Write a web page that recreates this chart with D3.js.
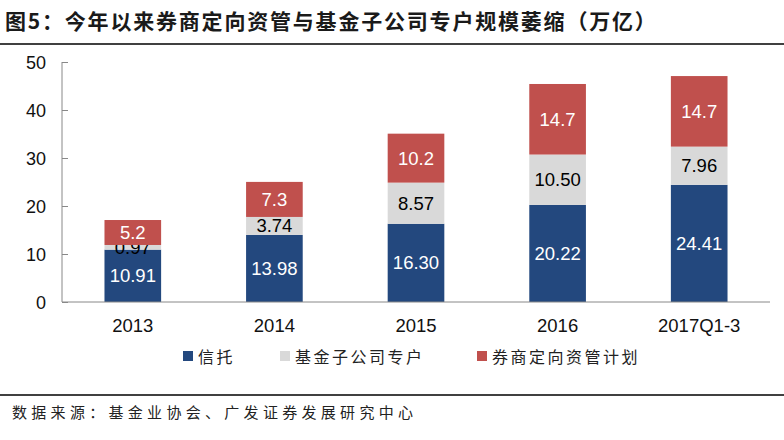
<!DOCTYPE html>
<html>
<head>
<meta charset="utf-8">
<script src="https://cdn.jsdelivr.net/npm/d3@7"></script>
<style>
body { margin: 0; background: #fff; }
svg { display: block; }
</style>
</head>
<body>
<svg id="chart" width="784" height="440"></svg>
<script>
// data
var years = ["2013", "2014", "2015", "2016", "2017Q1-3"];
var trust = [10.91, 13.98, 16.30, 20.22, 24.41];
var fundSub = [0.97, 3.74, 8.57, 10.50, 7.96];
var broker = [5.2, 7.3, 10.2, 14.7, 14.7];
var trustLabels = ["10.91", "13.98", "16.30", "20.22", "24.41"];
var fundLabels = ["0.97", "3.74", "8.57", "10.50", "7.96"];
var brokerLabels = ["5.2", "7.3", "10.2", "14.7", "14.7"];
var seriesNames = ["信托", "基金子公司专户", "券商定向资管计划"];
var yTicks = [0, 10, 20, 30, 40, 50];

var colors = ["#23487e", "#d9d9d9", "#c0504d"];
var labelColors = ["#fff", "#000", "#fff"];
var cjk = "'Noto Sans CJK SC', sans-serif";
var latin = "'Liberation Sans', Arial, sans-serif";

var svg = d3.select("#chart");

//title and rules
svg.append("text").attr("x", 5).attr("y", 29)
	.attr("font-family", cjk).attr("font-size", 21).attr("font-weight", "bold")
	.attr("letter-spacing", 1.8)
	.attr("fill", "#1a1a1a")
	.text("图5：今年以来券商定向资管与基金子公司专户规模萎缩（万亿）");
svg.append("line").attr("x1", 0).attr("x2", 784).attr("y1", 44).attr("y2", 44)
	.attr("stroke", "#000").attr("stroke-width", 1.5);
svg.append("line").attr("x1", 0).attr("x2", 784).attr("y1", 395).attr("y2", 395)
	.attr("stroke", "#000").attr("stroke-width", 1.5);
svg.append("text").attr("x", 12).attr("y", 418)
	.attr("font-family", cjk).attr("font-size", 15).attr("letter-spacing", 4.3)
	.attr("fill", "#222")
	.text("数据来源：基金业协会、广发证券发展研究中心");

var x = d3.scaleBand().domain(years).range([62, 770]).paddingInner(0.6).paddingOuter(0.3);
var y = d3.scaleLinear().domain([0, 50]).range([302, 62]);

var rows = years.map(function(yr, i) {
	return {year: yr, s0: trust[i], s1: fundSub[i], s2: broker[i],
		l0: trustLabels[i], l1: fundLabels[i], l2: brokerLabels[i]};
});
var stack = d3.stack().keys(["s0", "s1", "s2"])(rows);

stack.forEach(function(layer, k) {
	svg.append("g").selectAll("rect").data(layer).enter().append("rect")
		.attr("x", function(d) { return x(d.data.year); })
		.attr("width", x.bandwidth())
		.attr("y", function(d) { return y(d[1]); })
		.attr("height", function(d) { return y(d[0]) - y(d[1]); })
		.attr("fill", colors[k]);
	svg.append("g").selectAll("text").data(layer).enter().append("text")
		.attr("x", function(d) { return x(d.data.year) + x.bandwidth() / 2; })
		.attr("y", function(d) { return (y(d[0]) + y(d[1])) / 2 + 6.5; })
		.attr("text-anchor", "middle")
		.attr("font-family", latin).attr("font-size", 18.5)
		.attr("fill", labelColors[k])
		.text(function(d) { return d.data["l" + k]; });
});

// axes
var yAxis = svg.append("g").attr("transform", "translate(62,0)")
	.call(d3.axisRight(y).tickValues(yTicks).tickSize(6).tickFormat(""));
yAxis.selectAll("line, path").attr("stroke", "#888");
yAxis.select(".domain").attr("d", "M0,62V302");
svg.append("g").selectAll("text").data(yTicks).enter().append("text")
	.attr("x", 46).attr("y", function(d) { return y(d) + 6.5; })
	.attr("text-anchor", "end")
	.attr("font-family", latin).attr("font-size", 18).attr("fill", "#111")
	.text(function(d) { return d; });

svg.append("line").attr("x1", 62).attr("x2", 770).attr("y1", 302).attr("y2", 302)
	.attr("stroke", "#888");
svg.append("g").selectAll("text").data(years).enter().append("text")
	.attr("x", function(d) { return x(d) + x.bandwidth() / 2; })
	.attr("y", 332)
	.attr("text-anchor", "middle")
	.attr("font-family", latin).attr("font-size", 18.5).attr("fill", "#111")
	.text(function(d) { return d; });

// legend
var legX = [183, 280, 477];
seriesNames.forEach(function(name, k) {
	svg.append("rect").attr("x", legX[k]).attr("y", 351).attr("width", 10).attr("height", 10)
		.attr("fill", colors[k]);
	svg.append("text").attr("x", legX[k] + 15).attr("y", 363)
		.attr("font-family", cjk).attr("font-size", 16).attr("letter-spacing", 2.5)
		.attr("fill", "#222")
		.text(name);
});
</script>
</body>
</html>
